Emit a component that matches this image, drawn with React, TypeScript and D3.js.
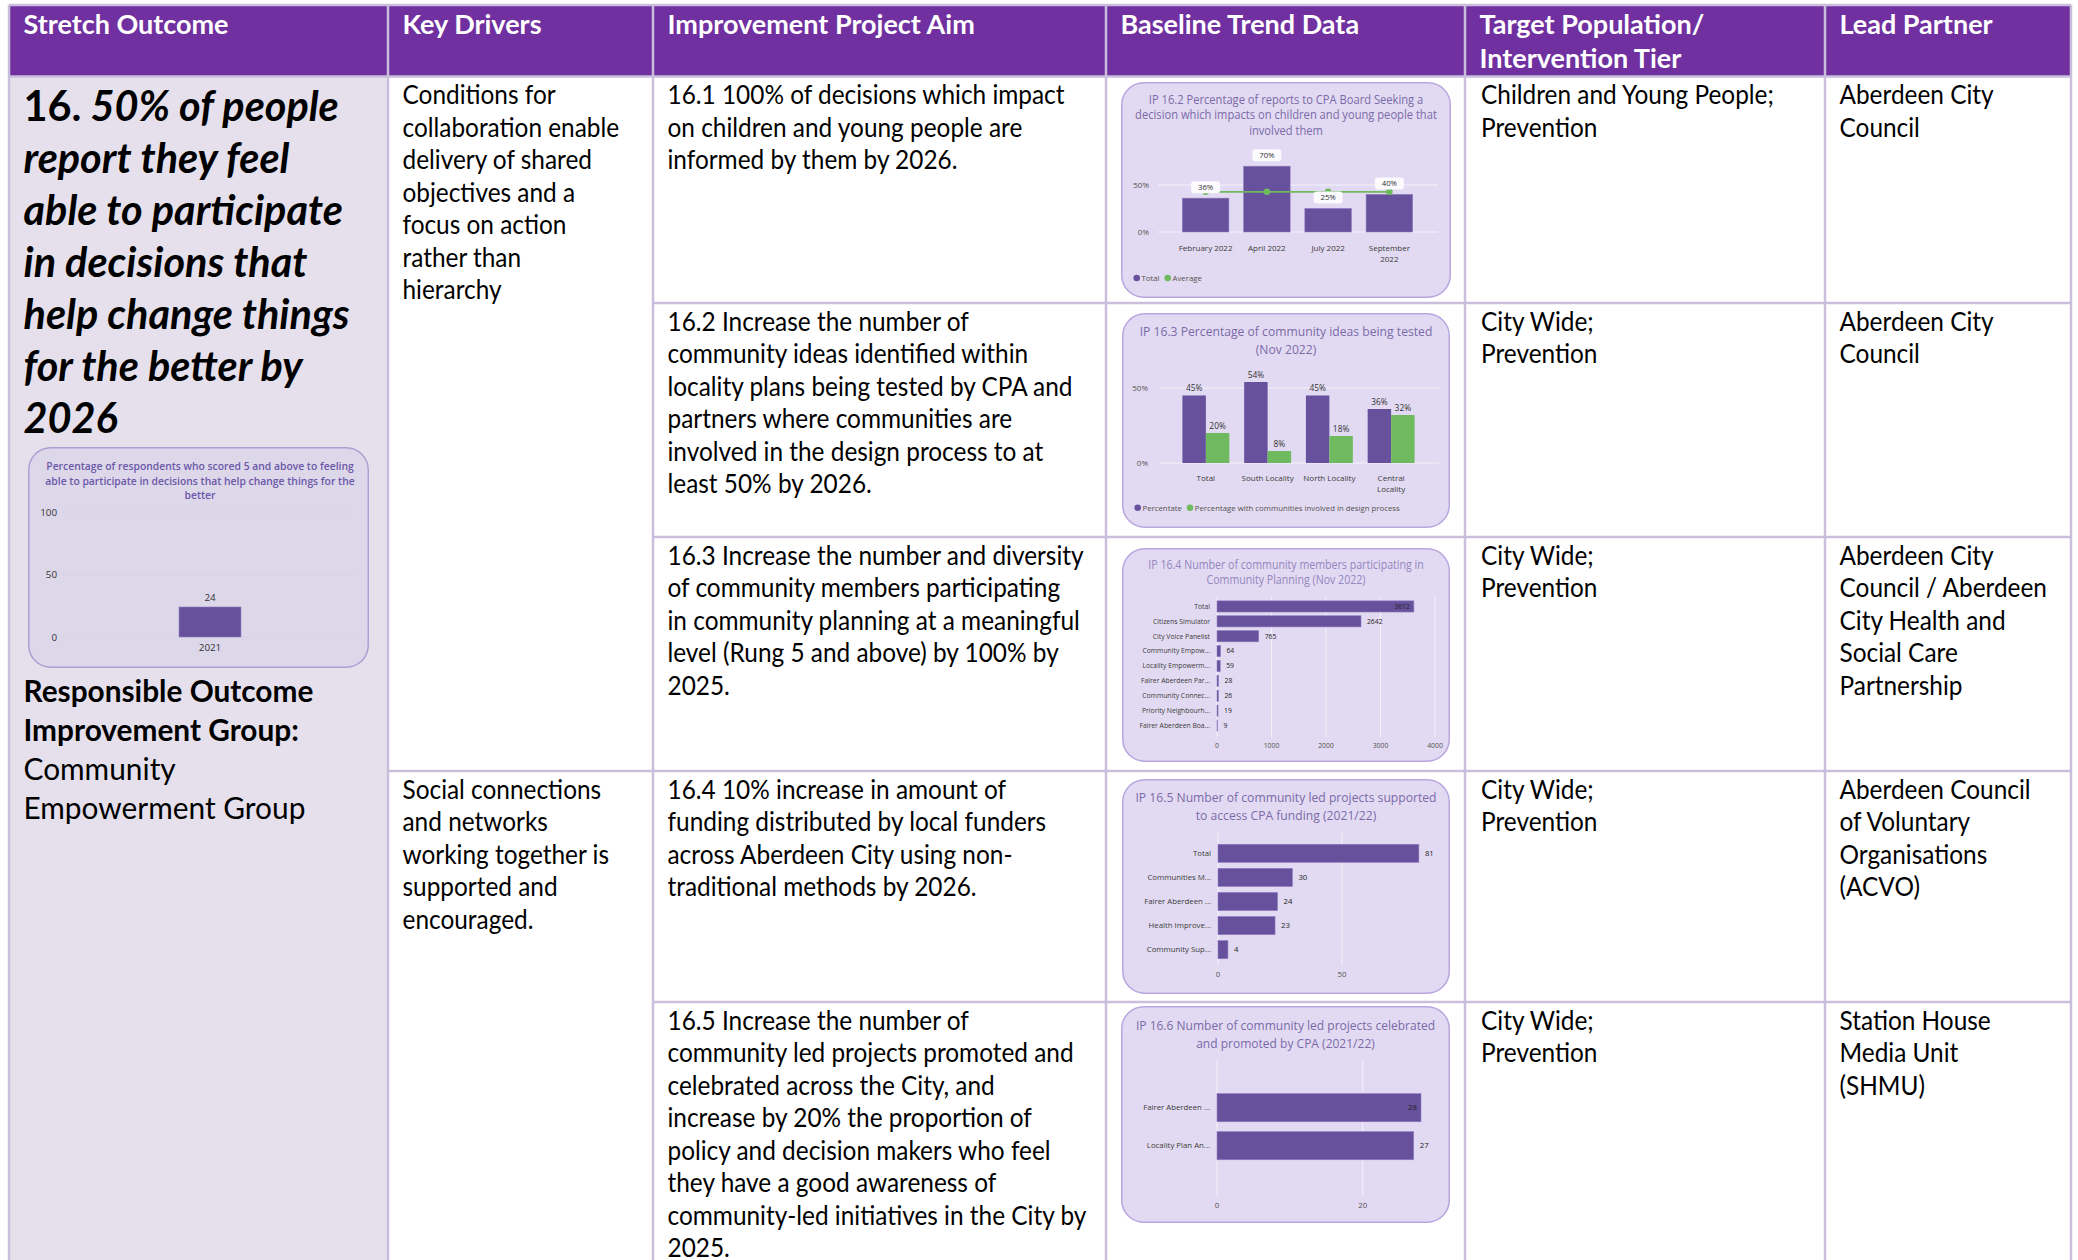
import React, { useMemo } from 'react';
import * as d3 from 'd3';

// table texts
const headerLines = [
  ['Stretch Outcome'],
  ['Key Drivers'],
  ['Improvement Project Aim'],
  ['Baseline Trend Data'],
  ['Target Population/', 'Intervention Tier'],
  ['Lead Partner'],
];
const outcomeNumber = '16.';
const outcomeLines = [
  '50% of people',
  'report they feel',
  'able to participate',
  'in decisions that',
  'help change things',
  'for the better by',
  '2026',
];
const ownerBold = ['Responsible Outcome', 'Improvement Group:'];
const ownerName = ['Community', 'Empowerment Group'];
const driverTexts = [
  ['Conditions for', 'collaboration enable', 'delivery of shared', 'objectives and a', 'focus on action', 'rather than', 'hierarchy'],
  ['Social connections', 'and networks', 'working together is', 'supported and', 'encouraged.'],
];
const driverStartRow = [0, 3];
const aimTexts = [
  ['16.1 100% of decisions which impact', 'on children and young people are', 'informed by them by 2026.'],
  ['16.2 Increase the number of', 'community ideas identified within', 'locality plans being tested by CPA and', 'partners where communities are', 'involved in the design process to at', 'least 50% by 2026.'],
  ['16.3 Increase the number and diversity', 'of community members participating', 'in community planning at a meaningful', 'level (Rung 5 and above) by 100% by', '2025.'],
  ['16.4 10% increase in amount of', 'funding distributed by local funders', 'across Aberdeen City using non-', 'traditional methods by 2026.'],
  ['16.5 Increase the number of', 'community led projects promoted and', 'celebrated across the City, and', 'increase by 20% the proportion of', 'policy and decision makers who feel', 'they have a good awareness of', 'community-led initiatives in the City by', '2025.'],
];
const targetTexts = [
  ['Children and Young People;', 'Prevention'],
  ['City Wide;', 'Prevention'],
  ['City Wide;', 'Prevention'],
  ['City Wide;', 'Prevention'],
  ['City Wide;', 'Prevention'],
];
const partnerTexts = [
  ['Aberdeen City', 'Council'],
  ['Aberdeen City', 'Council'],
  ['Aberdeen City', 'Council / Aberdeen', 'City Health and', 'Social Care', 'Partnership'],
  ['Aberdeen Council', 'of Voluntary', 'Organisations', '(ACVO)'],
  ['Station House', 'Media Unit', '(SHMU)'],
];

// chart data
const outcomeTitle = [
  'Percentage of respondents who scored 5 and above to feeling',
  'able to participate in decisions that help change things for the',
  'better',
];
const outcomeYears = ['2021'];
const outcomeScores = [24];
const outcomeTicks = [0, 50, 100];

const ip162Title = ['IP 16.2 Percentage of reports to CPA Board Seeking a', 'decision which impacts on children and young people that', 'involved them'];
const ip162Months = ['February 2022', 'April 2022', 'July 2022', 'September 2022'];
const ip162Total = [36, 70, 25, 40];

const ip163Title = ['IP 16.3 Percentage of community ideas being tested', '(Nov 2022)'];
const ip163Areas = ['Total', 'South Locality', 'North Locality', 'Central Locality'];
const ip163Tested = [45, 54, 45, 36];
const ip163Involved = [20, 8, 18, 32];
const ip163Legend = ['Percentate', 'Percentage with communities involved in design process'];

const ip164Title = ['IP 16.4 Number of community members participating in', 'Community Planning (Nov 2022)'];
const ip164Groups = ['Total', 'Citizens Simulator', 'City Voice Panelist', 'Community Empow...', 'Locality Empowerm...', 'Fairer Aberdeen Par...', 'Community Connec...', 'Priority Neighbourh...', 'Fairer Aberdeen Boa...'];
const ip164Members = [3612, 2642, 765, 64, 59, 28, 26, 19, 9];
const ip164Ticks = [0, 1000, 2000, 3000, 4000];

const ip165Title = ['IP 16.5 Number of community led projects supported', 'to access CPA funding (2021/22)'];
const ip165Funds = ['Total', 'Communities M...', 'Fairer Aberdeen ...', 'Health Improve...', 'Community Sup...'];
const ip165Projects = [81, 30, 24, 23, 4];
const ip165Ticks = [0, 50];

const ip166Title = ['IP 16.6 Number of community led projects celebrated', 'and promoted by CPA (2021/22)'];
const ip166Channels = ['Fairer Aberdeen ...', 'Locality Plan An...'];
const ip166Projects = [28, 27];
const ip166Ticks = [0, 20];

// layout
const W = 2078;
const H = 1260;
const colX = [9, 388, 653, 1106, 1465, 1825, 2071];
const headTop = 5;
const headBottom = 76.5;
const rowY = [76.5, 303, 537, 771, 1002, H];
const INSET = 14.5;
const LH = 32.5;
const BASE_OFF = 27.6;

const BODY = 'Lato, "Open Sans", sans-serif';
const CF = '"Open Sans", "Noto Sans", sans-serif';
const PURPLE = '#7030A0';
const GRID = '#C9BEDC';
const LAVENDER = '#E5E0EC';
const BAR = '#67519C';
const GREEN = '#6FBA5F';
const CARD_FILL = '#E2DAF2';
const CARD_STROKE = '#B7A6DF';
const TITLE = '#7A6AA8';
const AXIS = '#55534F';

function TextLines({ x, y, lines, size, lh, sx, weight = 400, italic = false, fill = '#000' }: any) {
  return (
    <g transform={`translate(${x},${y}) scale(${sx},1)`}>
      <text fontFamily={BODY} fontSize={size} fontWeight={weight} fontStyle={italic ? 'italic' : 'normal'} fill={fill}>
        {lines.map((l: string, i: number) => (
          <tspan key={i} x={0} y={i * lh}>
            {l}
          </tspan>
        ))}
      </text>
    </g>
  );
}

function Card({ x, y, w, h, fill = CARD_FILL, stroke = CARD_STROKE, children }: any) {
  return (
    <g transform={`translate(${x},${y})`} fontFamily={CF}>
      <rect x={0.75} y={0.75} width={w - 1.5} height={h - 1.5} rx={22} fill={fill} stroke={stroke} strokeWidth={1.5} />
      {children}
    </g>
  );
}

function Title({ cx, ys, lines, size, color = TITLE, sx = 0.9, weight = 400 }: any) {
  return (
    <g>
      {lines.map((l: string, i: number) => (
        <text
          key={i}
          transform={`translate(${cx},${ys[i]}) scale(${sx},1)`}
          textAnchor="middle"
          fontSize={size}
          fontWeight={weight}
          fill={color}>
          {l}
        </text>
      ))}
    </g>
  );
}

const splitLabel = (s: string, max: number) => {
  if (s.length <= max) return [s];
  const i = s.lastIndexOf(' ');
  return [s.slice(0, i), s.slice(i + 1)];
};

// stretch outcome survey chart
function OutcomeChart() {
  const box = { x: 28, y: 447, w: 341, h: 221 };
  const y = d3.scaleLinear().domain([0, 100]).range([190, 65]);
  const x = d3.scaleBand().domain(outcomeYears).range([35, 329]).padding(0.652);
  return (
    <Card {...box} fill="#DDD7EA" stroke="#ABA0D2">
      <Title cx={172} ys={[22.5, 37.5, 51.5]} lines={outcomeTitle} size={11.5} color="#6B58A8" sx={0.9} weight={600} />
      {outcomeTicks.map((t) => (
        <g key={t}>
          <line x1={35} x2={329} y1={y(t)} y2={y(t)} stroke="#C9C2D9" strokeDasharray="1 3" />
          <text x={29} y={y(t) + 3.5} textAnchor="end" fontSize={9.8} fill="#333">
            {t}
          </text>
        </g>
      ))}
      {outcomeYears.map((c, i) => (
        <g key={c}>
          <rect x={x(c)} y={y(outcomeScores[i])} width={x.bandwidth()} height={y(0) - y(outcomeScores[i])} fill={BAR} stroke="#8C7BC0" strokeWidth={0.6} />
          <text x={x(c)! + x.bandwidth() / 2} y={y(outcomeScores[i]) - 6.5} textAnchor="middle" fontSize={9.8} fill="#333">
            {outcomeScores[i]}
          </text>
          <text x={x(c)! + x.bandwidth() / 2} y={204} textAnchor="middle" fontSize={9.8} fill="#333">
            {c}
          </text>
        </g>
      ))}
    </Card>
  );
}

// column chart with average line
function Ip162Chart() {
  const box = { x: 1121, y: 82, w: 330, h: 216 };
  const x = d3.scaleBand().domain(ip162Months).range([54, 299]).paddingInner(0.24).paddingOuter(0.12);
  const y = d3.scaleLinear().domain([0, 50]).range([150, 103]);
  const avg = d3.mean(ip162Total) as number;
  const cx = (c: string) => x(c)! + x.bandwidth() / 2;
  const line = d3
    .line<string>()
    .x((c) => cx(c))
    .y(() => y(avg));
  return (
    <Card {...box}>
      <Title cx={165} ys={[21.5, 37, 52.5]} lines={ip162Title} size={12} sx={0.93} />
      {[0, 50].map((t) => (
        <g key={t}>
          <line x1={37} x2={317} y1={y(t)} y2={y(t)} stroke="#F4F1FA" />
          <text x={28} y={y(t) + 2.9} textAnchor="end" fontSize={8} fill={AXIS}>
            {t}%
          </text>
        </g>
      ))}
      {ip162Months.map((c, i) => (
        <rect key={c} x={x(c)} y={y(ip162Total[i])} width={x.bandwidth()} height={y(0) - y(ip162Total[i])} fill={BAR} stroke="#8C7BC0" strokeWidth={0.6} />
      ))}
      <path d={line(ip162Months) as string} fill="none" stroke={GREEN} strokeWidth={1.8} />
      {ip162Months.map((c) => (
        <circle key={c} cx={cx(c)} cy={y(avg)} r={3.3} fill={GREEN} />
      ))}
      {ip162Months.map((c, i) => {
        const ty = y(ip162Total[i]) - 11;
        return (
          <g key={c}>
            <rect x={cx(c) - 14.5} y={ty - 6} width={29} height={12} rx={3} fill="#FBFAFD" />
            <text x={cx(c)} y={ty + 2.8} textAnchor="middle" fontSize={7.8} fill="#333">
              {ip162Total[i]}%
            </text>
          </g>
        );
      })}
      {ip162Months.map((c) => (
        <text key={c} textAnchor="middle" fontSize={8} fill="#3B3A39">
          {splitLabel(c, 13).map((l, j) => (
            <tspan key={j} x={cx(c)} y={169 + j * 11}>
              {l}
            </tspan>
          ))}
        </text>
      ))}
      <circle cx={15.7} cy={196} r={3.3} fill={BAR} />
      <text x={20.5} y={198.8} fontSize={7.8} fill={AXIS}>
        Total
      </text>
      <circle cx={46.7} cy={196} r={3.3} fill={GREEN} />
      <text x={51.5} y={198.8} fontSize={7.8} fill={AXIS}>
        Average
      </text>
    </Card>
  );
}

// clustered column chart
function Ip163Chart() {
  const box = { x: 1122, y: 313, w: 328, h: 215 };
  const x = d3.scaleBand().domain(ip163Areas).range([53, 300]).paddingInner(0.24).paddingOuter(0.12);
  const sub = d3.scaleBand().domain(['tested', 'involved']).range([0, x.bandwidth()]);
  const y = d3.scaleLinear().domain([0, 50]).range([150, 75]);
  const series = [
    { key: 'tested', vals: ip163Tested, color: BAR },
    { key: 'involved', vals: ip163Involved, color: GREEN },
  ];
  return (
    <Card {...box}>
      <Title cx={164} ys={[22.5, 40.5]} lines={ip163Title} size={13} sx={0.935} />
      {[0, 50].map((t) => (
        <g key={t}>
          <line x1={37} x2={317} y1={y(t)} y2={y(t)} stroke="#F4F1FA" />
          <text x={26} y={y(t) + 2.9} textAnchor="end" fontSize={8} fill={AXIS}>
            {t}%
          </text>
        </g>
      ))}
      {ip163Areas.map((c, i) => (
        <g key={c} transform={`translate(${x(c)},0)`}>
          {series.map((s) => (
            <g key={s.key}>
              <rect x={sub(s.key)} y={y(s.vals[i])} width={sub.bandwidth()} height={y(0) - y(s.vals[i])} fill={s.color} />
              <text x={sub(s.key)! + sub.bandwidth() / 2} y={y(s.vals[i]) - 4.5} textAnchor="middle" fontSize={8.4} fill="#333">
                {s.vals[i]}%
              </text>
            </g>
          ))}
          <text textAnchor="middle" fontSize={8} fill="#3B3A39">
            {splitLabel(c, 14).map((l, j) => (
              <tspan key={j} x={x.bandwidth() / 2} y={168 + j * 11}>
                {l}
              </tspan>
            ))}
          </text>
        </g>
      ))}
      <circle cx={15.7} cy={194.7} r={3.3} fill={BAR} />
      <text x={20.5} y={197.5} fontSize={7.8} fill={AXIS}>
        {ip163Legend[0]}
      </text>
      <circle cx={68} cy={194.7} r={3.3} fill={GREEN} />
      <text x={72.8} y={197.5} fontSize={7.8} fill={AXIS}>
        {ip163Legend[1]}
      </text>
    </Card>
  );
}

// horizontal bar chart
function HBarChart({ box, title, titleSize, titleColor = TITLE, titleY, cats, vals, domain, ticks, xRange, bandRange, pad, gridY, axisY, labelX, fs, insideLimit, titleSx = 0.9 }: any) {
  const x = d3.scaleLinear().domain(domain).range(xRange);
  const y = d3.scaleBand().domain(cats).range(bandRange).paddingInner(pad).paddingOuter(pad / 2);
  return (
    <Card {...box}>
      <Title cx={box.w / 2} ys={titleY} lines={title} size={titleSize} color={titleColor} sx={titleSx} />
      {ticks.map((t: number) => (
        <line key={t} x1={x(t)} x2={x(t)} y1={gridY[0]} y2={gridY[1]} stroke="#F4F1FA" />
      ))}
      {cats.map((c: string, i: number) => {
        const v = vals[i];
        const yc = y(c)! + y.bandwidth() / 2;
        const end = x(v);
        const inside = end + 6 + String(v).length * fs * 0.6 > insideLimit;
        return (
          <g key={c}>
            <text x={labelX} y={yc + fs * 0.35} textAnchor="end" fontSize={fs} fill="#3B3A39">
              {c}
            </text>
            <rect x={x(0)} y={y(c)} width={end - x(0)} height={y.bandwidth()} fill={BAR} stroke="#8C7BC0" strokeWidth={0.6} />
            <text x={inside ? end - 4 : end + 6} y={yc + fs * 0.35} textAnchor={inside ? 'end' : 'start'} fontSize={fs} fill="#252423">
              {v}
            </text>
          </g>
        );
      })}
      {ticks.map((t: number) => (
        <text key={t} x={x(t)} y={axisY} textAnchor="middle" fontSize={fs} fill={AXIS}>
          {t}
        </text>
      ))}
    </Card>
  );
}

export default function App() {
  const fit = useMemo(() => {
    const ctx = document.createElement('canvas').getContext('2d');
    const ratio = (font: string, s: string, target: number) => {
      if (!ctx) return 0.9;
      ctx.font = font;
      const w = ctx.measureText(s).width;
      return w > 0 ? target / w : 0.9;
    };
    return {
      body: ratio(`400 26.7px ${BODY}`, '16.1 100% of decisions which impact', 398),
      head: ratio(`700 26.7px ${BODY}`, 'Stretch Outcome', 205),
      big: ratio(`italic 700 42.3px ${BODY}`, '16. 50% of people', 314),
      owner: ratio(`700 30.5px ${BODY}`, 'Responsible Outcome', 290),
      ownerReg: ratio(`400 30.5px ${BODY}`, 'Empowerment Group', 282),
    };
  }, []);

  return (
    <svg width={W} height={H} style={{ position: 'absolute', left: 0, top: 0, display: 'block' }}>
      <rect x={0} y={0} width={W} height={H} fill="#fff" />
      {/* header band and first column */}
      <rect x={colX[0]} y={headTop} width={colX[6] - colX[0]} height={headBottom - headTop} fill={PURPLE} />
      <rect x={colX[0]} y={headBottom} width={colX[1] - colX[0]} height={H - headBottom} fill={LAVENDER} />

      {headerLines.map((lines, i) => (
        <TextLines key={i} x={colX[i] + INSET} y={34} lines={lines} size={26.7} lh={34.5} sx={fit.head} weight={700} fill="#fff" />
      ))}

      {/* grid */}
      <g stroke={GRID} strokeWidth={2.5}>
        <line x1={colX[0]} x2={colX[6]} y1={headTop} y2={headTop} />
        <line x1={colX[0]} x2={colX[6]} y1={headBottom} y2={headBottom} />
        {colX.map((cx) => (
          <line key={cx} x1={cx} x2={cx} y1={headTop} y2={H} />
        ))}
        {rowY.slice(1, 5).map((ry, i) => (
          <line key={ry} x1={i === 2 ? colX[1] : colX[2]} x2={colX[6]} y1={ry} y2={ry} />
        ))}
      </g>

      {/* stretch outcome */}
      <g transform={`translate(${colX[0] + INSET},121) scale(${fit.big},1)`}>
        <text fontFamily={BODY} fontSize={42.3} fontWeight={700} fill="#000">
          {outcomeLines.map((l, i) =>
            i === 0 ? (
              <tspan key={i} x={0} y={0}>
                <tspan>{outcomeNumber}</tspan>
                <tspan fontStyle="italic">{' ' + l}</tspan>
              </tspan>
            ) : (
              <tspan key={i} x={0} y={i * 52} fontStyle="italic">
                {l}
              </tspan>
            ),
          )}
        </text>
      </g>
      <OutcomeChart />
      <TextLines x={colX[0] + INSET} y={701.5} lines={ownerBold} size={30.5} lh={39.3} sx={fit.owner} weight={700} />
      <TextLines x={colX[0] + INSET} y={701.5 + 2 * 39.3} lines={ownerName} size={30.5} lh={39.3} sx={fit.ownerReg} />

      {/* key drivers */}
      {driverTexts.map((lines, i) => (
        <TextLines key={i} x={colX[1] + INSET} y={rowY[driverStartRow[i]] + BASE_OFF} lines={lines} size={26.7} lh={LH} sx={fit.body} />
      ))}

      {/* aims, targets, partners */}
      {aimTexts.map((lines, i) => (
        <TextLines key={i} x={colX[2] + INSET} y={rowY[i] + BASE_OFF} lines={lines} size={26.7} lh={LH} sx={fit.body} />
      ))}
      {targetTexts.map((lines, i) => (
        <TextLines key={i} x={colX[4] + 16} y={rowY[i] + BASE_OFF} lines={lines} size={26.7} lh={LH} sx={fit.body} />
      ))}
      {partnerTexts.map((lines, i) => (
        <TextLines key={i} x={colX[5] + INSET} y={rowY[i] + BASE_OFF} lines={lines} size={26.7} lh={LH} sx={fit.body} />
      ))}

      {/* baseline trend charts */}
      <Ip162Chart />
      <Ip163Chart />
      <HBarChart
        box={{ x: 1122, y: 548, w: 328, h: 214 }}
        title={ip164Title}
        titleSize={12}
        titleColor="#9486C0"
        titleY={[20.5, 36]}
        titleSx={0.885}
        cats={ip164Groups}
        vals={ip164Members}
        domain={[0, 4000]}
        ticks={ip164Ticks}
        xRange={[95, 313]}
        bandRange={[51, 185]}
        pad={0.25}
        gridY={[49, 189]}
        axisY={199.5}
        labelX={88}
        fs={6.8}
        insideLimit={312}
      />
      <HBarChart
        box={{ x: 1122, y: 779, w: 328, h: 215 }}
        title={ip165Title}
        titleSize={13}
        titleY={[23, 41]}
        titleSx={0.935}
        cats={ip165Funds}
        vals={ip165Projects}
        domain={[0, 50]}
        ticks={ip165Ticks}
        xRange={[96, 220]}
        bandRange={[62.25, 182.75]}
        pad={0.25}
        gridY={[53, 186]}
        axisY={197.5}
        labelX={89}
        fs={7.8}
        insideLimit={325}
      />
      <HBarChart
        box={{ x: 1121, y: 1006, w: 329, h: 217 }}
        title={ip166Title}
        titleSize={13}
        titleY={[24, 42]}
        titleSx={0.925}
        cats={ip166Channels}
        vals={ip166Projects}
        domain={[0, 20]}
        ticks={ip166Ticks}
        xRange={[96, 241.7]}
        bandRange={[82.7, 158.7]}
        pad={0.26}
        gridY={[54, 191]}
        axisY={202}
        labelX={89}
        fs={7.8}
        insideLimit={312}
      />
    </svg>
  );
}
